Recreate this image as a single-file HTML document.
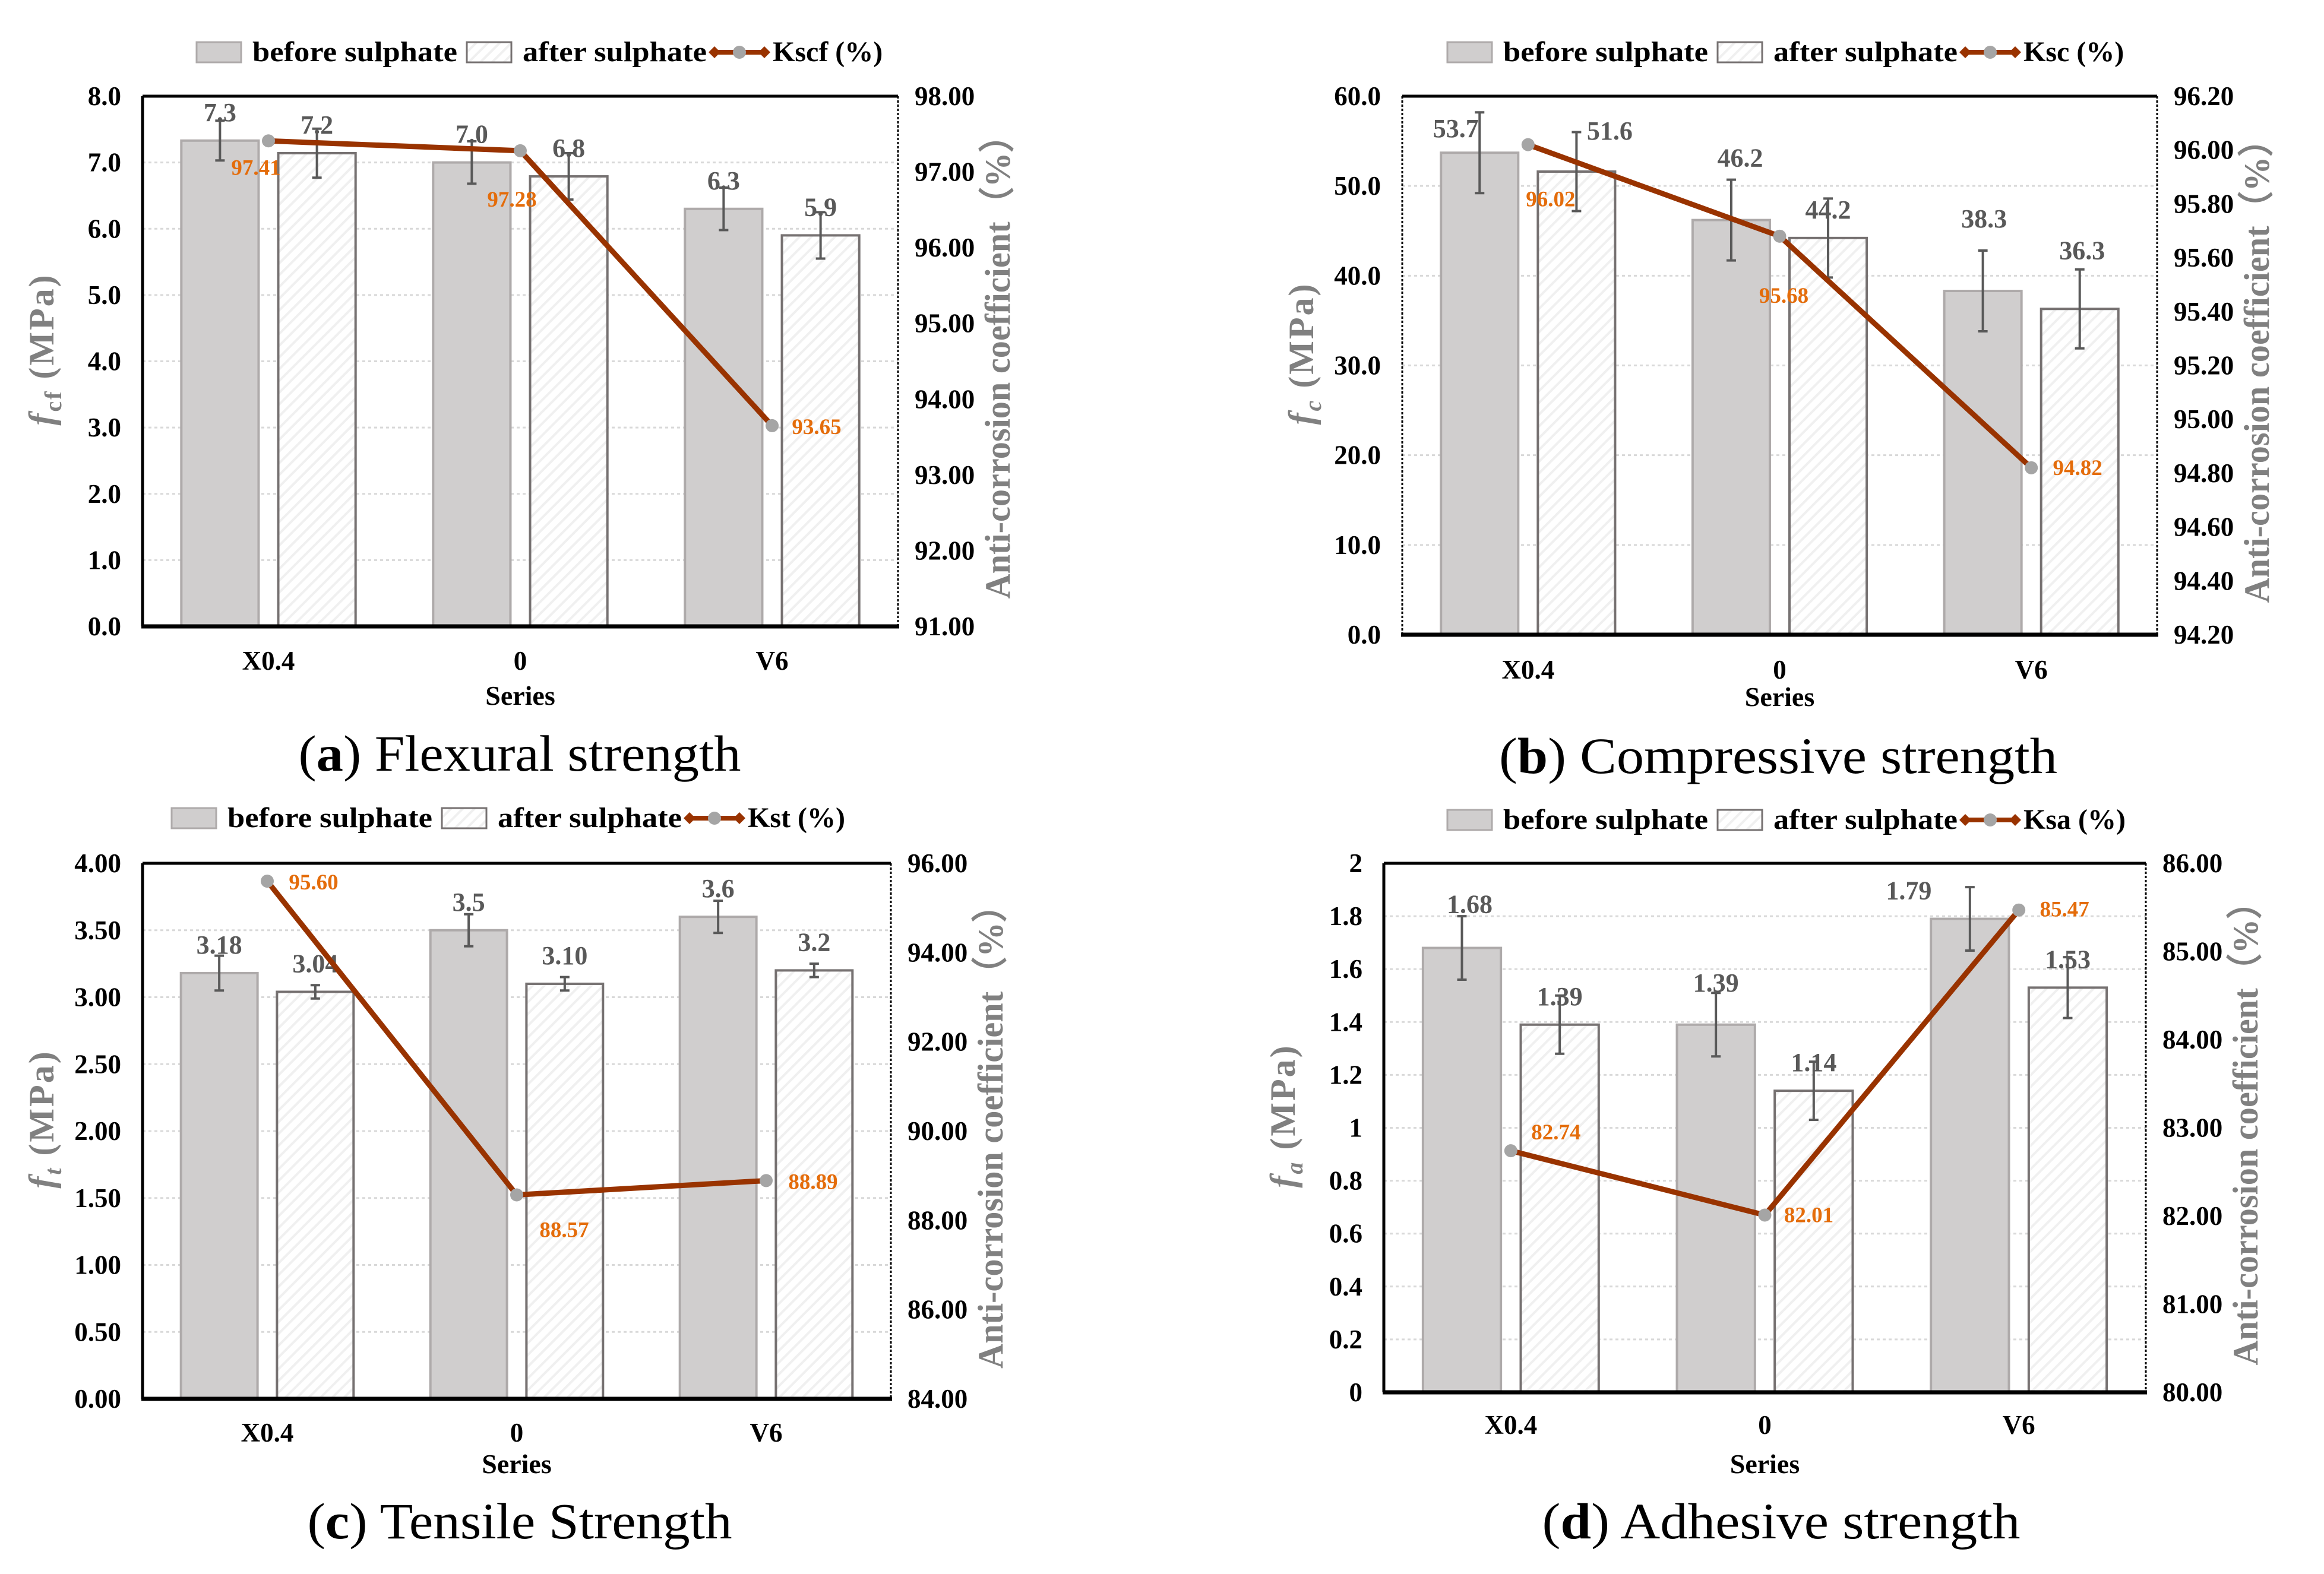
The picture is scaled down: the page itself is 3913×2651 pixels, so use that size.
<!DOCTYPE html>
<html><head><meta charset="utf-8">
<style>
html,body{margin:0;padding:0;background:#fff;}
svg{display:block;}
text{font-family:"Liberation Serif","Times New Roman",serif;}
</style></head>
<body>
<svg id="fig" xmlns="http://www.w3.org/2000/svg" width="3913" height="2651" viewBox="0 0 3913 2651">
<defs>
<pattern id="hatch" patternUnits="userSpaceOnUse" width="14" height="14" patternTransform="rotate(45)">
<rect width="14" height="14" fill="#fff"/>
<rect x="0" y="0" width="4" height="14" fill="#f0f0f0"/>
</pattern>
</defs>
</svg>
<script>
// ---- data: panel a (flexural) ----
const categories = ["X0.4", "0", "V6"];
const aBefore = [7.33, 7.0, 6.3];
const aBeforeLbl = ["7.3", "7.0", "6.3"];
const aAfter = [7.14, 6.79, 5.9];
const aAfterLbl = ["7.2", "6.8", "5.9"];
const aBeforeErr = [0.30, 0.32, 0.32];
const aAfterErr = [0.37, 0.35, 0.35];
const aK = [97.41, 97.28, 93.65];
const aKLbl = ["97.41", "97.28", "93.65"];
const aLeftTicks = [0, 1, 2, 3, 4, 5, 6, 7, 8];
const aRightTicks = [91, 92, 93, 94, 95, 96, 97, 98];
// ---- data: panel b (compressive) ----
const bBefore = [53.7, 46.2, 38.3];
const bBeforeLbl = ["53.7", "46.2", "38.3"];
const bAfter = [51.6, 44.2, 36.3];
const bAfterLbl = ["51.6", "44.2", "36.3"];
const bBeforeErr = [4.5, 4.5, 4.5];
const bAfterErr = [4.4, 4.4, 4.4];
const bK = [96.02, 95.68, 94.82];
const bKLbl = ["96.02", "95.68", "94.82"];
const bLeftTicks = [0, 10, 20, 30, 40, 50, 60];
const bRightTicks = [94.2, 94.4, 94.6, 94.8, 95.0, 95.2, 95.4, 95.6, 95.8, 96.0, 96.2];
// ---- data: panel c (tensile) ----
const cBefore = [3.18, 3.5, 3.6];
const cBeforeLbl = ["3.18", "3.5", "3.6"];
const cAfter = [3.04, 3.10, 3.2];
const cAfterLbl = ["3.04", "3.10", "3.2"];
const cBeforeErr = [0.13, 0.12, 0.12];
const cAfterErr = [0.05, 0.05, 0.05];
const cK = [95.60, 88.57, 88.89];
const cKLbl = ["95.60", "88.57", "88.89"];
const cLeftTicks = [0, 0.5, 1, 1.5, 2, 2.5, 3, 3.5, 4];
const cRightTicks = [84, 86, 88, 90, 92, 94, 96];
// ---- data: panel d (adhesive) ----
const dBefore = [1.68, 1.39, 1.79];
const dBeforeLbl = ["1.68", "1.39", "1.79"];
const dAfter = [1.39, 1.14, 1.53];
const dAfterLbl = ["1.39", "1.14", "1.53"];
const dBeforeErr = [0.12, 0.12, 0.12];
const dAfterErr = [0.11, 0.11, 0.115];
const dK = [82.74, 82.01, 85.47];
const dKLbl = ["82.74", "82.01", "85.47"];
const dLeftTicks = [0, 0.2, 0.4, 0.6, 0.8, 1, 1.2, 1.4, 1.6, 1.8, 2];
const dRightTicks = [80, 81, 82, 83, 84, 85, 86];

const NS = "http://www.w3.org/2000/svg";
const svg = document.getElementById('fig');
function mk(tag, attrs, parent, txt) {
  const e = document.createElementNS(NS, tag);
  for (const k in attrs) e.setAttribute(k, attrs[k]);
  if (txt !== undefined) e.textContent = txt;
  (parent || svg).appendChild(e);
  return e;
}

const panels = [
  {id:'a', L:240, R:1512, T:162, B:1055, lx:331, ly:88, catY:1128, serY:1187, capY:1298, capX:875, capLen:745,
   before:aBefore, bl:aBeforeLbl, after:aAfter, al:aAfterLbl, be:aBeforeErr, ae:aAfterErr, K:aK, kl:aKLbl,
   lt:aLeftTicks, rt:aRightTicks, ldec:1, kname:'Kscf (%)', sub:'cf', cap:['a',') Flexural strength'],
   kOff:[[-21,44],[-14,81],[75,1]], bAdj:[[0,0],[0,0],[0,0]], aAdj:[[0,0],[0,0],[0,0]], leftDotted:false},
  {id:'b', L:2361, R:3632, T:162, B:1069, lx:2437, ly:88, catY:1143, serY:1189, capY:1302, capX:2994, capLen:940,
   before:bBefore, bl:bBeforeLbl, after:bAfter, al:bAfterLbl, be:bBeforeErr, ae:bAfterErr, K:bK, kl:bKLbl,
   lt:bLeftTicks, rt:bRightTicks, ldec:1, kname:'Ksc (%)', sub:'c', cap:['b',') Compressive strength'],
   kOff:[[38,91],[7,99],[78,-1]], bAdj:[[-40,7],[15,-57],[2,-74]], aAdj:[[56,-21],[0,0],[4,-51]], leftDotted:true},
  {id:'c', L:240, R:1500, T:1454, B:2356, lx:289, ly:1378, catY:2428, serY:2481, capY:2591, capX:875, capLen:715,
   before:cBefore, bl:cBeforeLbl, after:cAfter, al:cAfterLbl, be:cBeforeErr, ae:cAfterErr, K:cK, kl:cKLbl,
   lt:cLeftTicks, rt:cRightTicks, ldec:2, kname:'Kst (%)', sub:'t', cap:['c',') Tensile Strength'],
   kOff:[[78,1],[80,58],[79,1]], bAdj:[[0,0],[0,0],[0,0]], aAdj:[[0,0],[0,0],[0,0]], leftDotted:false},
  {id:'d', L:2330, R:3613, T:1454, B:2345, lx:2437, ly:1381, catY:2415, serY:2481, capY:2591, capX:2999, capLen:805,
   before:dBefore, bl:dBeforeLbl, after:dAfter, al:dAfterLbl, be:dBeforeErr, ae:dAfterErr, K:dK, kl:dKLbl,
   lt:dLeftTicks, rt:dRightTicks, ldec:-1, kname:'Ksa (%)', sub:'a', cap:['d',') Adhesive strength'],
   kOff:[[76,-32],[74,-1],[77,-2]], bAdj:[[13,-26],[0,-23],[-103,0]], aAdj:[[0,0],[0,0],[0,0]], leftDotted:false}
];

panels.forEach(p => {
  const g = mk('g', {});
  
  
  const lmin = p.lt[0], lmax = p.lt[p.lt.length-1];
  const rmin = p.rt[0], rmax = p.rt[p.rt.length-1];
  const yL = v => p.B - (v - lmin) / (lmax - lmin) * (p.B - p.T);
  const yR = v => p.B - (v - rmin) / (rmax - rmin) * (p.B - p.T);
  const W = (p.R - p.L) / categories.length;
  const xC = i => p.L + W * (i + 0.5);
  const bw = 0.307 * W, gap = 0.078 * W;

  p.lt.forEach((t, i) => {
    if (i === 0) return;
    const gl = mk('line', {x1:p.L, x2:p.R, y1:yL(t), y2:yL(t), stroke:'#d9d9d9', 'stroke-width':3, 'stroke-dasharray':'5,5'}, g);
    
    
  });
  p.lt.forEach(t => {
    const s = p.ldec < 0 ? String(Math.round(t*10)/10) : t.toFixed(p.ldec);
    const tl = mk('text', {x:p.L-36, y:yL(t)+15, 'text-anchor':'end', 'font-size':45, 'font-weight':'bold', fill:'#000'}, g, s);
    
    
  });
  p.rt.forEach(t => {
    const tl = mk('text', {x:p.R+28, y:yR(t)+15, 'text-anchor':'start', 'font-size':45, 'font-weight':'bold', fill:'#000'}, g, t.toFixed(2));
    
    
  });

  categories.forEach((c, i) => {
    const x0 = xC(i) - gap/2 - bw;
    const x1 = xC(i) + gap/2;
    const b1 = mk('rect', {x:x0, y:yL(p.before[i]), width:bw, height:p.B - yL(p.before[i]), fill:'#d0cece', stroke:'#aeaaaa', 'stroke-width':4}, g);
    
    
    const b2 = mk('rect', {x:x1, y:yL(p.after[i]), width:bw, height:p.B - yL(p.after[i]), fill:'url(#hatch)', stroke:'#767171', 'stroke-width':4}, g);
    
    
    const lb = mk('text', {x:x0 + bw/2 + p.bAdj[i][0], y:yL(p.before[i]) - 48 + 15 + p.bAdj[i][1], 'text-anchor':'middle', 'font-size':44, 'font-weight':'bold', fill:'#595959'}, g, p.bl[i]);
    
    
    const la = mk('text', {x:x1 + bw/2 + p.aAdj[i][0], y:yL(p.after[i]) - 48 + 15 + p.aAdj[i][1], 'text-anchor':'middle', 'font-size':44, 'font-weight':'bold', fill:'#595959'}, g, p.al[i]);
    
    
    [[x0 + bw/2, p.before[i], p.be[i]], [x1 + bw/2, p.after[i], p.ae[i]]].forEach(e => {
      const eg = mk('g', {stroke:'#595959', 'stroke-width':4}, g);
      
      
      mk('line', {x1:e[0], x2:e[0], y1:yL(e[1]+e[2]), y2:yL(e[1]-e[2])}, eg);
      mk('line', {x1:e[0]-8, x2:e[0]+8, y1:yL(e[1]+e[2]), y2:yL(e[1]+e[2])}, eg);
      mk('line', {x1:e[0]-8, x2:e[0]+8, y1:yL(e[1]-e[2]), y2:yL(e[1]-e[2])}, eg);
    });
    const cl = mk('text', {x:xC(i), y:p.catY, 'text-anchor':'middle', 'font-size':45, 'font-weight':'bold'}, g, c);
    
    
  });

  const ax = mk('g', {}, g);
  
  
  mk('line', {x1:p.L, x2:p.R, y1:p.T, y2:p.T, stroke:'#000', 'stroke-width':5}, ax);
  if (p.leftDotted) mk('line', {x1:p.L, x2:p.L, y1:p.T, y2:p.B, stroke:'#000', 'stroke-width':3, 'stroke-dasharray':'4,3'}, ax);
  else mk('line', {x1:p.L, x2:p.L, y1:p.T, y2:p.B, stroke:'#000', 'stroke-width':5}, ax);
  mk('line', {x1:p.R, x2:p.R, y1:p.T, y2:p.B, stroke:'#000', 'stroke-width':3, 'stroke-dasharray':'4,3'}, ax);
  mk('line', {x1:p.L-2, x2:p.R+2, y1:p.B, y2:p.B, stroke:'#000', 'stroke-width':7}, ax);

  const pts = p.K.map((k, i) => xC(i) + ',' + yR(k)).join(' ');
  const pl = mk('polyline', {points:pts, fill:'none', stroke:'#993300', 'stroke-width':9, 'stroke-linejoin':'round'}, g);
  
  
  p.K.forEach((k, i) => {
    const m = mk('circle', {cx:xC(i), cy:yR(k), r:11, fill:'#a5a5a5'}, g);
    
    
    const t = mk('text', {x:xC(i) + p.kOff[i][0], y:yR(k) + p.kOff[i][1] + 13, 'text-anchor':'middle', 'font-size':37, 'font-weight':'bold', fill:'#e46c0a'}, g, p.kl[i]);
    
    
  });

  const cy = (p.T + p.B) / 2 - 20;
  const lt = mk('text', {x:0, y:0, transform:'translate(' + (p.L - 150) + ',' + cy + ') rotate(-90)', 'text-anchor':'middle', 'font-size':60, 'font-weight':'bold', fill:'#808080', 'letter-spacing':3}, g);
  
  
  mk('tspan', {'font-style':'italic'}, lt, 'f');
  mk('tspan', {'font-size':40, dy:13, 'font-style':p.sub === 'cf' ? 'normal' : 'italic'}, lt, p.sub);
  mk('tspan', {dy:-13}, lt, ' (MPa)');
  const rt = mk('text', {x:0, y:0, transform:'translate(' + (p.R + 188) + ',' + ((p.T+p.B)/2 - 5) + ') rotate(-90)', 'text-anchor':'middle', 'font-size':60, 'font-weight':'bold', fill:'#808080', textLength:810, lengthAdjust:'spacingAndGlyphs', 'font-family':'"Liberation Serif","Noto Serif CJK SC",serif'}, g, 'Anti-corrosion coefficient（%）');
  
  
  const xt = mk('text', {x:(p.L+p.R)/2, y:p.serY, 'text-anchor':'middle', 'font-size':46, 'font-weight':'bold'}, g, 'Series');
  
  

  const lg = mk('g', {}, g);
  
  
  const ly = p.ly;
  const r1 = mk('rect', {x:p.lx, y:ly-17, width:75, height:34, fill:'#d0cece', stroke:'#aeaaaa', 'stroke-width':3}, lg);
  
  
  const t1 = mk('text', {x:p.lx+94, y:ly+15, 'font-size':48, 'font-weight':'bold', textLength:345, lengthAdjust:'spacingAndGlyphs'}, lg, 'before sulphate');
  
  
  const r2 = mk('rect', {x:p.lx+455, y:ly-17, width:75, height:34, fill:'url(#hatch)', stroke:'#767171', 'stroke-width':3}, lg);
  
  
  const t2 = mk('text', {x:p.lx+549, y:ly+15, 'font-size':48, 'font-weight':'bold', textLength:310, lengthAdjust:'spacingAndGlyphs'}, lg, 'after sulphate');
  
  
  const ll = mk('line', {x1:p.lx+872, x2:p.lx+956, y1:ly, y2:ly, stroke:'#993300', 'stroke-width':8}, lg);
  
  
  mk('polygon', {points:(p.lx+862)+','+ly+' '+(p.lx+872)+','+(ly-10)+' '+(p.lx+882)+','+ly+' '+(p.lx+872)+','+(ly+10), fill:'#993300'}, lg);
  mk('polygon', {points:(p.lx+946)+','+ly+' '+(p.lx+956)+','+(ly-10)+' '+(p.lx+966)+','+ly+' '+(p.lx+956)+','+(ly+10), fill:'#993300'}, lg);
  mk('circle', {cx:p.lx+914, cy:ly, r:11, fill:'#a5a5a5'}, lg);
  const t3 = mk('text', {x:p.lx+970, y:ly+15, 'font-size':48, 'font-weight':'bold'}, lg, p.kname);
  
  

  const cp = mk('text', {x:p.capX, y:p.capY, 'text-anchor':'middle', 'font-size':86, textLength:p.capLen, lengthAdjust:'spacingAndGlyphs'}, g);
  
  
  mk('tspan', {}, cp, '(');
  mk('tspan', {'font-weight':'bold'}, cp, p.cap[0]);
  mk('tspan', {}, cp, p.cap[1]);
});
</script>
</body></html>
